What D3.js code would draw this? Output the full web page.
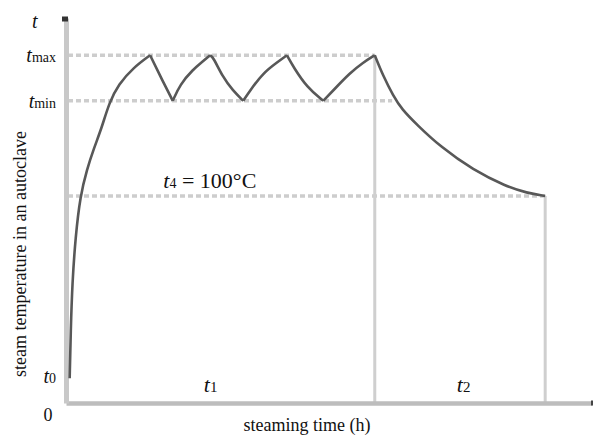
<!DOCTYPE html>
<html><head><meta charset="utf-8">
<script src="https://cdn.jsdelivr.net/npm/d3@7"></script>
<style>html,body{margin:0;padding:0;background:#fff;} svg{display:block;}</style>
</head><body><svg id="c" width="593" height="436"></svg>
<script>
// ---- data (time in arbitrary units 0..100, temperature in °C) ----
const curveTime = [0.7, 0.9, 1.2, 1.8, 2.7, 4.0, 5.3, 6.8, 8.2, 10.0, 12.8, 16.0,
  17.9, 20.3,
  21.7, 24.1, 26.0, 27.4,
  28.0, 29.8, 31.7, 33.7,
  35.0, 37.5, 40.1, 42.0,
  43.2, 45.8, 48.9,
  50.8, 54.0, 56.5, 58.7,
  60.3, 62.2, 63.8, 66.9, 71.1, 77.4, 83.8, 87.6, 91.1];
const curveTemp = [12, 35, 58, 80, 100, 113, 123, 133, 145, 154, 162, 168,
  158, 146,
  154, 161, 165, 168,
  167, 157.5, 151, 146,
  151, 159.5, 164.5, 168,
  162.5, 152.5, 146,
  151, 159.5, 164.5, 168,
  158, 148.5, 142, 134, 124, 112.5, 104.5, 101.5, 100];
const yTickValues = [168, 146, 13];
const yTickNames = [["t", "max"], ["t", "min"], ["t", "0"]];
const tMax = 168, tMin = 146, t4 = 100;
const tMaxEnd = 58.7, tMinEnd = 62.0, t4End = 91.1;
const phaseEnds = [58.7, 91.1];
const phaseLabelPos = [26.2, 74.3];
const phaseLabels = [["t", "1"], ["t", "2"]];
const axisTop = 186;
const xLabel = "steaming time (h)";
const yLabel = "steam temperature in an autoclave";

const svg = d3.select("#c");
const x = d3.scaleLinear().domain([0, 100]).range([66, 592]);
const y = d3.scaleLinear().domain([0, axisTop]).range([403, 18]);
const serif = "'Liberation Serif','Times New Roman',serif";

// dashed reference lines
const refs = [[tMax, tMaxEnd], [tMin, tMinEnd], [t4, t4End]];
svg.append("g").selectAll("line").data(refs).join("line")
  .attr("x1", x(0) + 2).attr("x2", d => x(d[1]))
  .attr("y1", d => y(d[0])).attr("y2", d => y(d[0]))
  .attr("stroke", "#cdcdcd").attr("stroke-width", 3.5)
  .attr("stroke-dasharray", "5,3");

// vertical phase lines
const phaseTops = [tMax, t4];
svg.append("g").selectAll("line").data(phaseEnds).join("line")
  .attr("x1", d => x(d)).attr("x2", d => x(d))
  .attr("y1", (d, i) => y(phaseTops[i])).attr("y2", y(0))
  .attr("stroke", "#cfcfcf").attr("stroke-width", 3);

// axes
const xAxis = svg.append("g").attr("transform", `translate(0,${y(0)})`)
  .call(d3.axisBottom(x).tickValues([]).tickSize(0).tickSizeOuter(0));
xAxis.select(".domain").attr("stroke", "#bdbdbd").attr("stroke-width", 4.5);

const yAxis = svg.append("g").attr("transform", `translate(${x(0)},0)`)
  .call(d3.axisLeft(y).tickValues(yTickValues).tickSize(0).tickSizeOuter(0).tickPadding(10).tickFormat(""));
yAxis.select(".domain").attr("stroke", "#c8c8c8").attr("stroke-width", 5);
yAxis.attr("font-family", serif).attr("font-size", 20);
yAxis.selectAll(".tick text").each(function (d, i) {
  const t = d3.select(this).attr("fill", "#111").attr("dy", "0.32em");
  t.append("tspan").attr("font-style", "italic").attr("font-size", 20).text(yTickNames[i][0]);
  t.append("tspan").attr("font-size", 14).text(yTickNames[i][1]);
});

// axis end caps
svg.append("line").attr("x1", x(0) - 4).attr("x2", x(0) + 2)
  .attr("y1", y(axisTop) + 1).attr("y2", y(axisTop) + 1)
  .attr("stroke", "#333").attr("stroke-width", 5);
svg.append("line").attr("x1", x(100) - 1).attr("x2", x(100) + 2)
  .attr("y1", y(0)).attr("y2", y(0))
  .attr("stroke", "#444").attr("stroke-width", 5);

// curve: split at local extrema so peaks stay sharp
const pts = curveTime.map((t, i) => [t, curveTemp[i]]);
const segs = [];
let cur = [pts[0]];
for (let i = 1; i < pts.length; i++) {
  cur.push(pts[i]);
  if (i < pts.length - 1) {
    const a = pts[i][1] - pts[i - 1][1], b = pts[i + 1][1] - pts[i][1];
    if (a * b < 0) { segs.push(cur); cur = [pts[i]]; }
  }
}
segs.push(cur);
const line = d3.line().x(d => x(d[0])).y(d => y(d[1])).curve(d3.curveBasis);
svg.append("g").selectAll("path").data(segs).join("path")
  .attr("d", line).attr("fill", "none")
  .attr("stroke", "#585858").attr("stroke-width", 2.6)
  .attr("stroke-linejoin", "miter").attr("stroke-linecap", "butt");

// texts
const txt = svg.append("g").attr("font-family", serif).attr("fill", "#111");
txt.append("text").attr("x", x(0) - 34).attr("y", y(axisTop) + 10)
  .attr("font-style", "italic").attr("font-size", 20).text("t");
txt.append("text").attr("x", x(0) - 18).attr("y", y(0) + 18)
  .attr("text-anchor", "middle").attr("font-size", 18).text("0");

const t4t = txt.append("text").attr("x", x(18.5)).attr("y", y(t4) - 8).attr("font-size", 22);
t4t.append("tspan").attr("font-style", "italic").text("t");
t4t.append("tspan").attr("font-size", 14).text("4");
t4t.append("tspan").text(" = 100°C");

phaseLabels.forEach((p, i) => {
  const t = txt.append("text").attr("x", x(phaseLabelPos[i])).attr("y", y(0) - 11).attr("font-size", 22);
  t.append("tspan").attr("font-style", "italic").text(p[0]);
  t.append("tspan").attr("font-size", 15).text(p[1]);
});

txt.append("text").attr("x", 307).attr("y", y(0) + 28)
  .attr("text-anchor", "middle").attr("font-size", 18).text(xLabel);
txt.append("text").attr("transform", `translate(26,${y(72)}) rotate(-90)`)
  .attr("text-anchor", "middle").attr("font-size", 18).text(yLabel);
</script>
</body></html>
